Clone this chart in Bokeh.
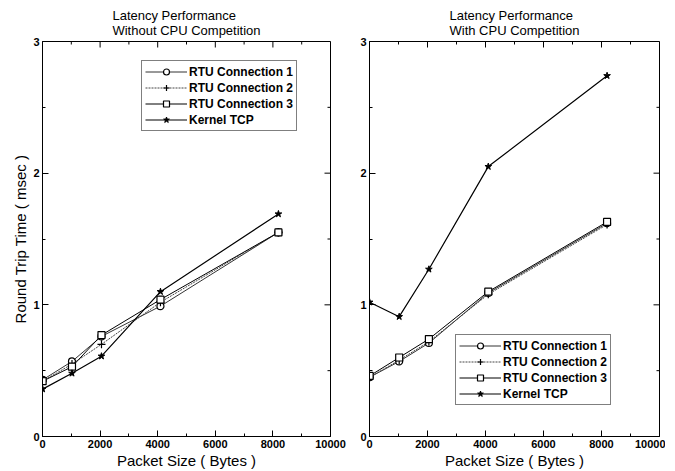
import math
from bokeh.plotting import figure
from bokeh.layouts import row
from bokeh.models import FixedTicker, Legend, LegendItem, Range1d
from bokeh.embed import file_html
from bokeh.resources import INLINE

# ---- data ----
packet_sizes = [4, 1024, 2048, 4096, 8192]

no_cpu_rtu1 = [0.43, 0.57, 0.76, 0.99, 1.55]
no_cpu_rtu2 = [0.42, 0.55, 0.70, 1.02, 1.55]
no_cpu_rtu3 = [0.42, 0.53, 0.77, 1.04, 1.55]
no_cpu_tcp = [0.36, 0.48, 0.61, 1.10, 1.69]

cpu_rtu1 = [0.45, 0.57, 0.71, 1.09, 1.62]
cpu_rtu2 = [0.45, 0.58, 0.72, 1.08, 1.61]
cpu_rtu3 = [0.46, 0.60, 0.74, 1.10, 1.63]
cpu_tcp = [1.02, 0.91, 1.27, 2.05, 2.74]

x_ticks = [0, 2000, 4000, 6000, 8000, 10000]
x_minor = [1000, 3000, 5000, 7000, 9000]
y_ticks = [0, 1, 2, 3]
y_minor = [0.5, 1.5, 2.5]
X_MAX = 10000
Y_MAX = 3

series_names = ["RTU Connection 1", "RTU Connection 2", "RTU Connection 3", "Kernel TCP"]

FONT = "Liberation Sans"


def style_axis(ax, ticks, minor):
    ax.ticker = FixedTicker(ticks=ticks, minor_ticks=minor)
    ax.major_tick_in = 6
    ax.major_tick_out = 0
    ax.minor_tick_in = 3
    ax.minor_tick_out = 0
    ax.axis_line_color = "black"
    ax.major_tick_line_color = "black"
    ax.minor_tick_line_color = "black"
    ax.major_label_text_font = FONT
    ax.major_label_text_font_style = "bold"
    ax.major_label_text_font_size = "11px"
    ax.major_label_text_color = "black"
    ax.major_label_standoff = 3
    ax.axis_label_text_font = FONT
    ax.axis_label_text_font_style = "normal"
    ax.axis_label_text_font_size = "15px"
    ax.axis_label_text_color = "black"
    ax.axis_label_standoff = 1


def make_panel(title, rtu1, rtu2, rtu3, tcp, ylabel, legend_loc, fw, border_left, border_right):
    p = figure(frame_width=fw, frame_height=395,
               x_range=Range1d(0, X_MAX), y_range=Range1d(0, Y_MAX),
               output_backend="svg", toolbar_location=None,
               title=title, min_border_left=border_left, min_border_right=border_right,
               min_border_top=41, min_border_bottom=0)
    p.title.align = "center"
    p.title.text_font = FONT
    p.title.text_font_style = "normal"
    p.title.text_font_size = "13px"
    p.title.text_color = "black"
    p.title.standoff = 8
    p.title.text_line_height = 1.0
    p.xgrid.visible = False
    p.ygrid.visible = False
    p.outline_line_color = "black"
    p.background_fill_color = "white"
    p.border_fill_color = "white"

    p.xaxis.axis_label = "Packet Size ( Bytes )"
    style_axis(p.xaxis[0], x_ticks, x_minor)
    style_axis(p.yaxis[0], y_ticks, y_minor)
    if ylabel:
        p.yaxis.axis_label = ylabel

    # mirrored ticks on top and right edges
    p.ray(x=x_ticks, y=Y_MAX, length=6, length_units="screen", angle=-math.pi / 2,
          line_color="black", line_width=1)
    p.ray(x=x_minor, y=Y_MAX, length=3, length_units="screen", angle=-math.pi / 2,
          line_color="black", line_width=1)
    p.ray(x=X_MAX, y=y_ticks, length=6, length_units="screen", angle=math.pi,
          line_color="black", line_width=1)
    p.ray(x=X_MAX, y=y_minor, length=3, length_units="screen", angle=math.pi,
          line_color="black", line_width=1)

    r1l = p.line(packet_sizes, rtu1, line_color="#333333", line_width=1)
    r1m = p.scatter(packet_sizes, rtu1, marker="circle", size=7, fill_color="white",
                    line_color="black", line_width=1.2)
    r2l = p.line(packet_sizes, rtu2, line_color="#444444", line_width=1, line_dash="2 1")
    r2m = p.scatter(packet_sizes, rtu2, marker="cross", size=8, line_color="black", line_width=1.2)
    r3l = p.line(packet_sizes, rtu3, line_color="black", line_width=1)
    r3m = p.scatter(packet_sizes, rtu3, marker="square", size=7, fill_color="white",
                    line_color="black", line_width=1.2)
    r4l = p.line(packet_sizes, tcp, line_color="black", line_width=1.2)
    r4m = p.scatter(packet_sizes, tcp, marker="star", size=7, fill_color="black",
                    line_color="black")

    legend = Legend(items=[
        LegendItem(label=series_names[0], renderers=[r1l, r1m]),
        LegendItem(label=series_names[1], renderers=[r2l, r2m]),
        LegendItem(label=series_names[2], renderers=[r3l, r3m]),
        LegendItem(label=series_names[3], renderers=[r4l, r4m]),
    ], location=legend_loc)
    legend.border_line_color = "black"
    legend.border_line_width = 1.5
    legend.label_text_font = FONT
    legend.label_text_font_style = "bold"
    legend.label_text_font_size = "12px"
    legend.label_text_color = "black"
    legend.glyph_width = 42
    legend.glyph_height = 15
    legend.label_height = 15
    legend.spacing = 1
    legend.padding = 3
    legend.margin = 0
    legend.label_standoff = 2
    legend.background_fill_alpha = 1.0
    p.add_layout(legend, "center")
    return p


left = make_panel("Latency Performance\nWithout CPU Competition",
                  no_cpu_rtu1, no_cpu_rtu2, no_cpu_rtu3, no_cpu_tcp,
                  "Round Trip Time ( msec )", (99, 305), 288, 42, 19)
right = make_panel("Latency Performance\nWith CPU Competition",
                   cpu_rtu1, cpu_rtu2, cpu_rtu3, cpu_tcp,
                   "", (86, 31), 290, 20, 6)

layout = row(left, right, spacing=0)
open("out.html", "w").write(file_html(layout, INLINE))
